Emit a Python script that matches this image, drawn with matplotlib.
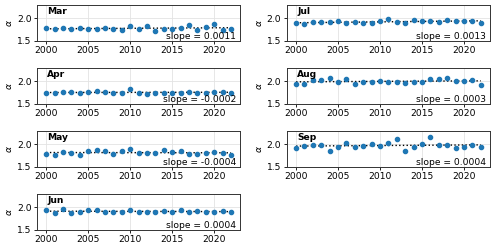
import numpy as np
import matplotlib
matplotlib.use("Agg")
import matplotlib.pyplot as plt

years = np.arange(2000, 2023)

months = ["Mar", "Apr", "May", "Jun", "Jul", "Aug", "Sep"]
slopes = ["0.0011", "-0.0002", "-0.0004", "0.0004", "0.0013", "0.0003", "0.0004"]

alpha_mar = [1.78, 1.77, 1.79, 1.76, 1.79, 1.76, 1.77, 1.78, 1.76, 1.74, 1.83, 1.77,
             1.83, 1.72, 1.76, 1.76, 1.78, 1.86, 1.75, 1.82, 1.87, 1.75, 1.77]
alpha_apr = [1.73, 1.73, 1.76, 1.76, 1.75, 1.76, 1.79, 1.77, 1.74, 1.73, 1.84, 1.74,
             1.71, 1.75, 1.75, 1.75, 1.75, 1.77, 1.75, 1.75, 1.77, 1.77, 1.74]
alpha_may = [1.78, 1.77, 1.82, 1.81, 1.77, 1.84, 1.87, 1.85, 1.78, 1.84, 1.89, 1.81,
             1.80, 1.81, 1.87, 1.82, 1.84, 1.78, 1.79, 1.80, 1.82, 1.81, 1.76]
alpha_jun = [1.93, 1.88, 1.96, 1.88, 1.90, 1.93, 1.93, 1.89, 1.89, 1.90, 1.93, 1.90,
             1.89, 1.90, 1.91, 1.90, 1.93, 1.89, 1.92, 1.89, 1.90, 1.92, 1.90]
alpha_jul = [1.89, 1.87, 1.93, 1.91, 1.91, 1.95, 1.90, 1.92, 1.89, 1.90, 1.95, 1.98,
             1.91, 1.89, 1.97, 1.94, 1.95, 1.92, 1.97, 1.94, 1.94, 1.95, 1.90]
alpha_aug = [1.94, 1.95, 2.02, 2.02, 2.07, 1.99, 2.05, 1.94, 1.98, 1.98, 2.01, 1.98,
             1.99, 1.97, 1.98, 1.99, 2.06, 2.05, 2.07, 2.00, 2.00, 2.04, 1.93]
alpha_sep = [1.92, 1.97, 1.98, 1.99, 1.85, 1.95, 2.02, 1.95, 1.97, 2.00, 1.96, 2.02,
             2.12, 1.84, 1.95, 2.01, 2.16, 1.98, 1.98, 1.91, 1.95, 1.98, 1.94]

series = [alpha_mar, alpha_apr, alpha_may, alpha_jun, alpha_jul, alpha_aug, alpha_sep]

fs = 6.6
fig, axes = plt.subplots(4, 2, figsize=(5, 2.47), dpi=100)
plt.subplots_adjust(left=0.074, right=0.98, top=0.98, bottom=0.07, hspace=0.75, wspace=0.23)

# left column Mar..Jun, right column Jul..Sep
for i, (month, vals, slope) in enumerate(zip(months, series, slopes)):
    ax = axes[i % 4, i // 4]
    vals = np.array(vals)
    ax.plot(years, vals, "o", color="tab:blue", markersize=3, zorder=3)
    p = np.polyfit(years, vals, 1)
    ax.plot(years, np.polyval(p, years), ":", color="black", linewidth=1.0, zorder=2)
    ax.set_ylim(1.5, 2.3)
    ax.set_yticks([1.5, 2.0])
    ax.set_xticks([2000, 2005, 2010, 2015, 2020])
    ax.grid(True, color="#e3e3e3", linewidth=0.6)
    ax.set_axisbelow(True)
    ax.tick_params(labelsize=fs, length=2.5, width=0.6, pad=1.5)
    ax.set_ylabel(r"$\alpha$", fontsize=fs, labelpad=2)
    for s in ax.spines.values():
        s.set_linewidth(0.7)
        s.set_color("#333333")
    ax.text(0.05, 0.93, month, transform=ax.transAxes, fontsize=fs, fontweight="bold",
            va="top", ha="left")
    ax.text(0.98, 0.06, f"slope = {slope}", transform=ax.transAxes, fontsize=fs,
            va="baseline", ha="right")

axes[3, 1].axis("off")

plt.savefig("out.png", dpi=100)
